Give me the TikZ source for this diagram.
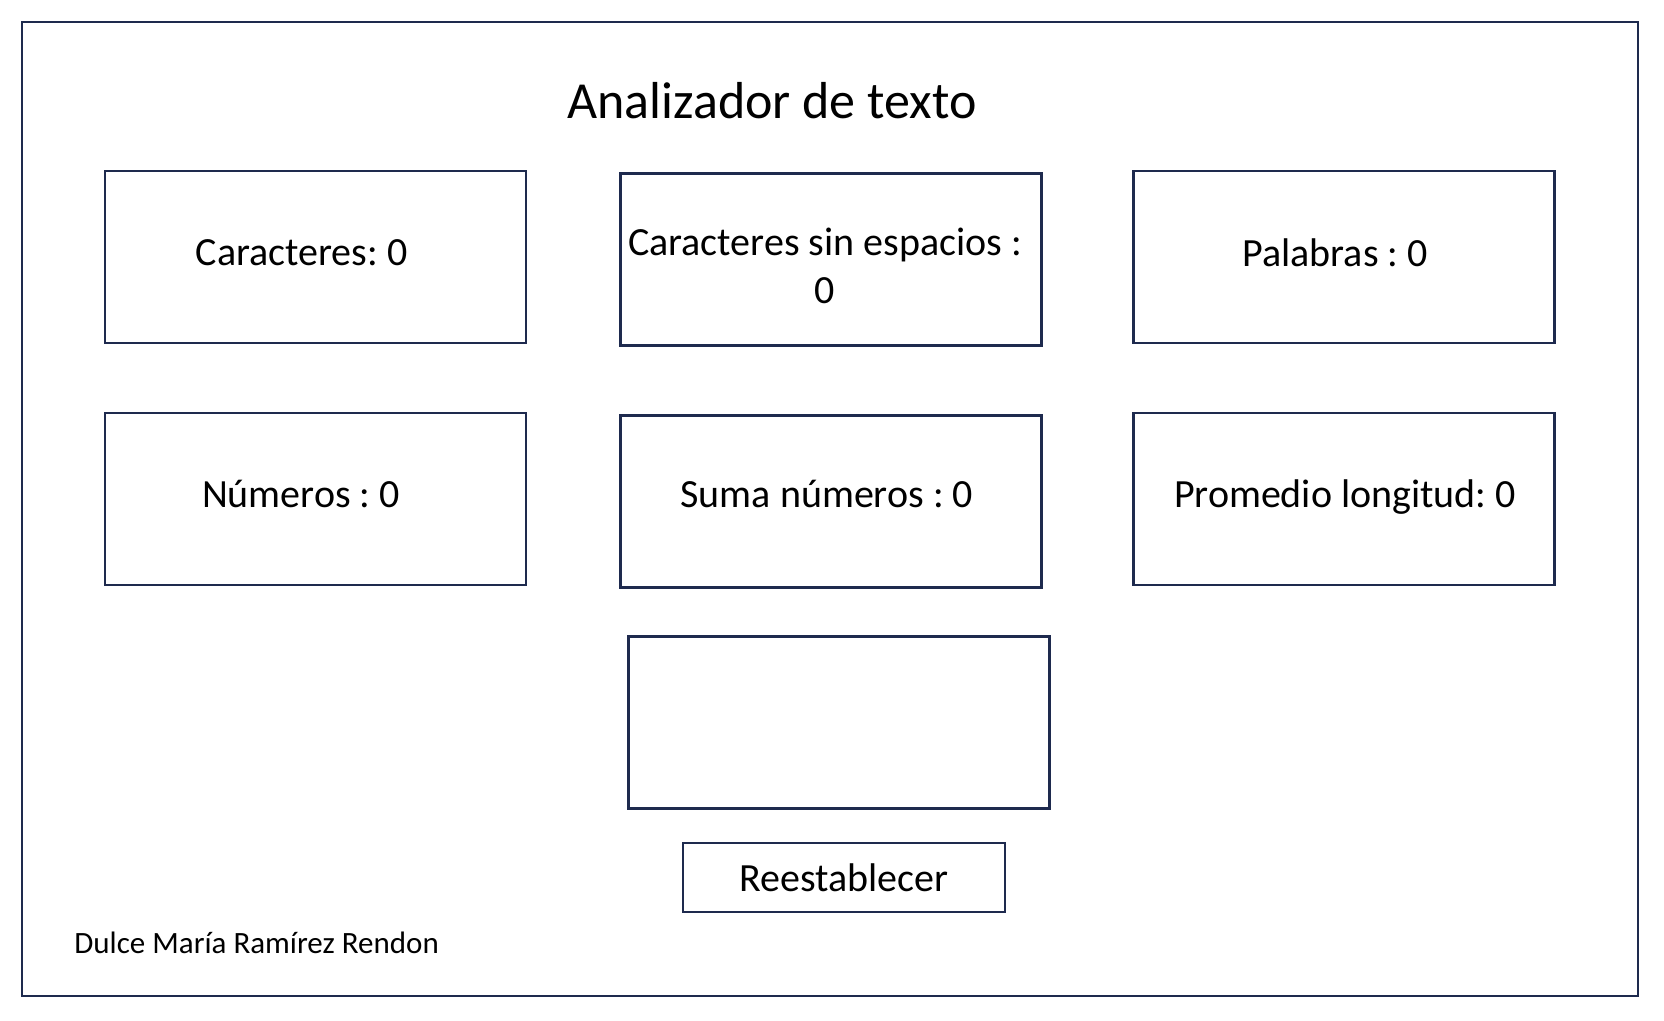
\documentclass[tikz,border=0pt]{standalone}
\usepackage{fontspec}
\setmainfont{Carlito}
\frenchspacing
\definecolor{marco}{RGB}{30,42,78}

\begin{document}
\begin{tikzpicture}[x=1pt, y=-1pt, line width=2.8pt,
  main/.style = {draw=marco, rectangle, minimum width=421pt, minimum height=172pt, inner sep=0pt},
  txt/.style = {font=\fontsize{40}{48}\selectfont, inner sep=0pt}]
      \useasboundingbox (0,0) rectangle (1664,1020);
      \draw[marco] (22,22) rectangle (1638,996);
      \node[font=\fontsize{52}{60}\selectfont] (title) at (772,101) {Analizador de texto};
      % fila de arriba
      \node[main] (1) at (315.5,257) {};
      \node[main] (2) at (831,259.5) {};
      \node[main] (3) at (1344,257) {};
      % fila de abajo
      \node[main] (4) at (315.5,499) {};
      \node[main] (5) at (831,501.5) {};
      \node[main] (6) at (1344,499) {};
      \node[main] (7) at (839,722.5) {};
      \node[main, minimum width=322pt, minimum height=69pt] (8) at (844,877.5) {};
      \node[txt] (t1) at (301.6,253) {Caracteres: 0};
      \node[txt, align=center] (t2) at (825,266) {Caracteres sin espacios :\\0};
      \node[txt] (t3) at (1335,253) {Palabras : 0};
      \node[txt] (t4) at (301,494) {Números : 0};
      \node[txt] (t5) at (826.8,494) {Suma números : 0};
      \node[txt] (t6) at (1345,497) {Promedio longitud: 0};
      \node[txt] (t8) at (844,878) {Reestablecer};
      \node[font=\fontsize{31}{37}\selectfont, anchor=west, inner sep=0pt] (autora) at (73,943) {Dulce María Ramírez Rendon};
    \end{tikzpicture}
\end{document}
